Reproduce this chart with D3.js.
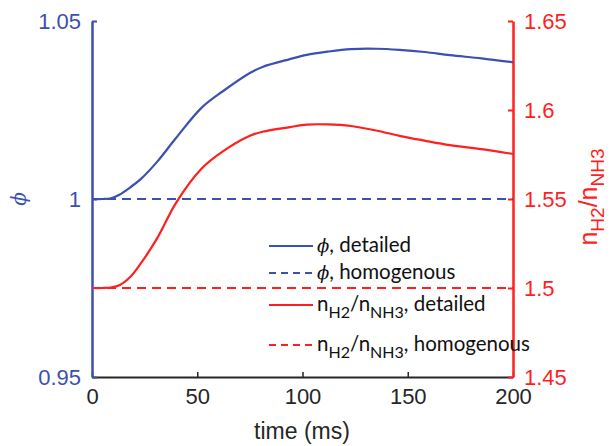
<!DOCTYPE html>
<html><head><meta charset="utf-8">
<script src="https://cdn.jsdelivr.net/npm/d3@7"></script>
<style>body{margin:0;background:#fff}svg{display:block}</style>
</head><body>
<svg id="c" width="610" height="446"></svg>
<script>
const time = [0, 5, 9, 13, 18, 23, 31, 40, 52, 62, 75, 81, 94, 102, 112, 123, 135, 146, 158, 170, 185, 200];
const phiDetailed = [1.000, 1.000, 1.0002, 1.0012, 1.0032, 1.0055, 1.0105, 1.0172, 1.0256, 1.0302, 1.0354, 1.0371, 1.0393, 1.0405, 1.0414, 1.0421, 1.0422, 1.0419, 1.0413, 1.0404, 1.0395, 1.0384];
const ratioDetailed = [1.500, 1.500, 1.5003, 1.5015, 1.506, 1.5135, 1.528, 1.548, 1.567, 1.5766, 1.5855, 1.5878, 1.5904, 1.5918, 1.5919, 1.591, 1.5885, 1.5855, 1.5828, 1.5803, 1.578, 1.5753];
const phiHomogenous = 1.0;
const ratioHomogenous = 1.5;
const xTicks = [0, 50, 100, 150, 200];
const leftTicks = [0.95, 1, 1.05];
const rightTicks = [1.45, 1.5, 1.55, 1.6, 1.65];

const BLUE = "#3b50b0", RED = "#ff1f1f", DARK = "#262626";
const FONT = "'Liberation Sans', Arial, sans-serif";
const LFONT = "Lato, 'Open Sans', sans-serif";

const svg = d3.select("#c");
const L = 92, R = 513, T = 21, B = 377;
const x = d3.scaleLinear().domain([0, 200]).range([L, R]);
const yL = d3.scaleLinear().domain([0.95, 1.05]).range([B, T]);
const yR = d3.scaleLinear().domain([1.45, 1.65]).range([B, T]);

// x axis
const gx = svg.append("g").attr("transform", `translate(0,${B})`)
  .call(d3.axisBottom(x).tickValues(xTicks).tickSizeInner(-5).tickSizeOuter(0).tickPadding(11).tickFormat(d3.format("d")));
gx.select(".domain").attr("stroke", DARK).attr("stroke-width", 2);
gx.selectAll(".tick line").attr("stroke", DARK).attr("stroke-width", 1.5);
gx.selectAll("text").attr("fill", DARK).style("font-family", FONT).style("font-size", "22px");

// left axis
const gl = svg.append("g").attr("transform", `translate(${L},0)`)
  .call(d3.axisLeft(yL).tickValues(leftTicks).tickSizeInner(-5).tickSizeOuter(0).tickPadding(11).tickFormat(d => d3.format("")(d)));
gl.select(".domain").attr("stroke", BLUE).attr("stroke-width", 2.5);
gl.selectAll(".tick line").attr("stroke", BLUE).attr("stroke-width", 2);
gl.selectAll("text").attr("fill", BLUE).style("font-family", FONT).style("font-size", "22px");

// right axis
const gr = svg.append("g").attr("transform", `translate(${R},0)`)
  .call(d3.axisRight(yR).tickValues(rightTicks).tickSizeInner(-5).tickSizeOuter(0).tickPadding(11).tickFormat(d => d3.format("")(d)));
gr.select(".domain").attr("stroke", RED).attr("stroke-width", 2.5);
gr.selectAll(".tick line").attr("stroke", RED).attr("stroke-width", 2);
gr.selectAll("text").attr("fill", RED).style("font-family", FONT).style("font-size", "22px");

// homogenous lines
svg.append("line").attr("x1", x(0)).attr("x2", x(200)).attr("y1", yL(phiHomogenous)).attr("y2", yL(phiHomogenous))
  .attr("stroke", BLUE).attr("stroke-width", 2).attr("stroke-dasharray", "9,6");
svg.append("line").attr("x1", x(0)).attr("x2", x(200)).attr("y1", yR(ratioHomogenous)).attr("y2", yR(ratioHomogenous))
  .attr("stroke", RED).attr("stroke-width", 2).attr("stroke-dasharray", "9,6");

// detailed curves
const lineL = d3.line().x((d, i) => x(time[i])).y(d => yL(d)).curve(d3.curveCatmullRom.alpha(0.5));
const lineR = d3.line().x((d, i) => x(time[i])).y(d => yR(d)).curve(d3.curveCatmullRom.alpha(0.5));
svg.append("path").attr("d", lineL(phiDetailed)).attr("fill", "none").attr("stroke", BLUE).attr("stroke-width", 2.2);
svg.append("path").attr("d", lineR(ratioDetailed)).attr("fill", "none").attr("stroke", RED).attr("stroke-width", 2.2);

// axis labels
svg.append("text").attr("x", 302).attr("y", 439).attr("text-anchor", "middle").attr("fill", DARK)
  .style("font-family", FONT).style("font-size", "23px").text("time (ms)");
svg.append("text").attr("transform", "translate(26,199) rotate(-90)").attr("text-anchor", "middle").attr("fill", BLUE)
  .style("font-family", "'DejaVu Serif', serif").style("font-style", "italic").style("font-size", "20px").text("ϕ");
const rl = svg.append("text").attr("transform", "translate(597,197) rotate(-90)").attr("text-anchor", "middle").attr("fill", RED)
  .style("font-family", FONT).style("font-size", "25px");
rl.append("tspan").text("n");
rl.append("tspan").attr("dy", 7).style("font-size", "19px").text("H2");
rl.append("tspan").attr("dy", -7).text("/n");
rl.append("tspan").attr("dy", 7).style("font-size", "19px").text("NH3");

// legend
const legend = [
  {c: BLUE, dash: null, y: 246, kind: "phi", tail: ", detailed"},
  {c: BLUE, dash: "7,5", y: 273, kind: "phi", tail: ", homogenous"},
  {c: RED, dash: null, y: 305, kind: "n", tail: ", detailed"},
  {c: RED, dash: "7,5", y: 345, kind: "n", tail: ", homogenous"}
];
legend.forEach(d => {
  svg.append("line").attr("x1", 269).attr("x2", 313).attr("y1", d.y).attr("y2", d.y)
    .attr("stroke", d.c).attr("stroke-width", 2).attr("stroke-dasharray", d.dash);
  const t = svg.append("text").attr("x", 317).attr("y", d.y + 6).attr("fill", "#111")
    .style("font-family", LFONT).style("font-size", "20.5px");
  if (d.kind === "phi") {
    t.append("tspan").style("font-family", "'DejaVu Serif', serif").style("font-style", "italic").style("font-size", "18px").text("ϕ");
    t.append("tspan").text(d.tail);
  } else {
    t.append("tspan").text("n");
    t.append("tspan").attr("dy", 7).style("font-size", "16px").text("H2");
    t.append("tspan").attr("dy", -7).text("/n");
    t.append("tspan").attr("dy", 7).style("font-size", "16px").text("NH3");
    t.append("tspan").attr("dy", -7).text(d.tail);
  }
});
</script>
</body></html>
